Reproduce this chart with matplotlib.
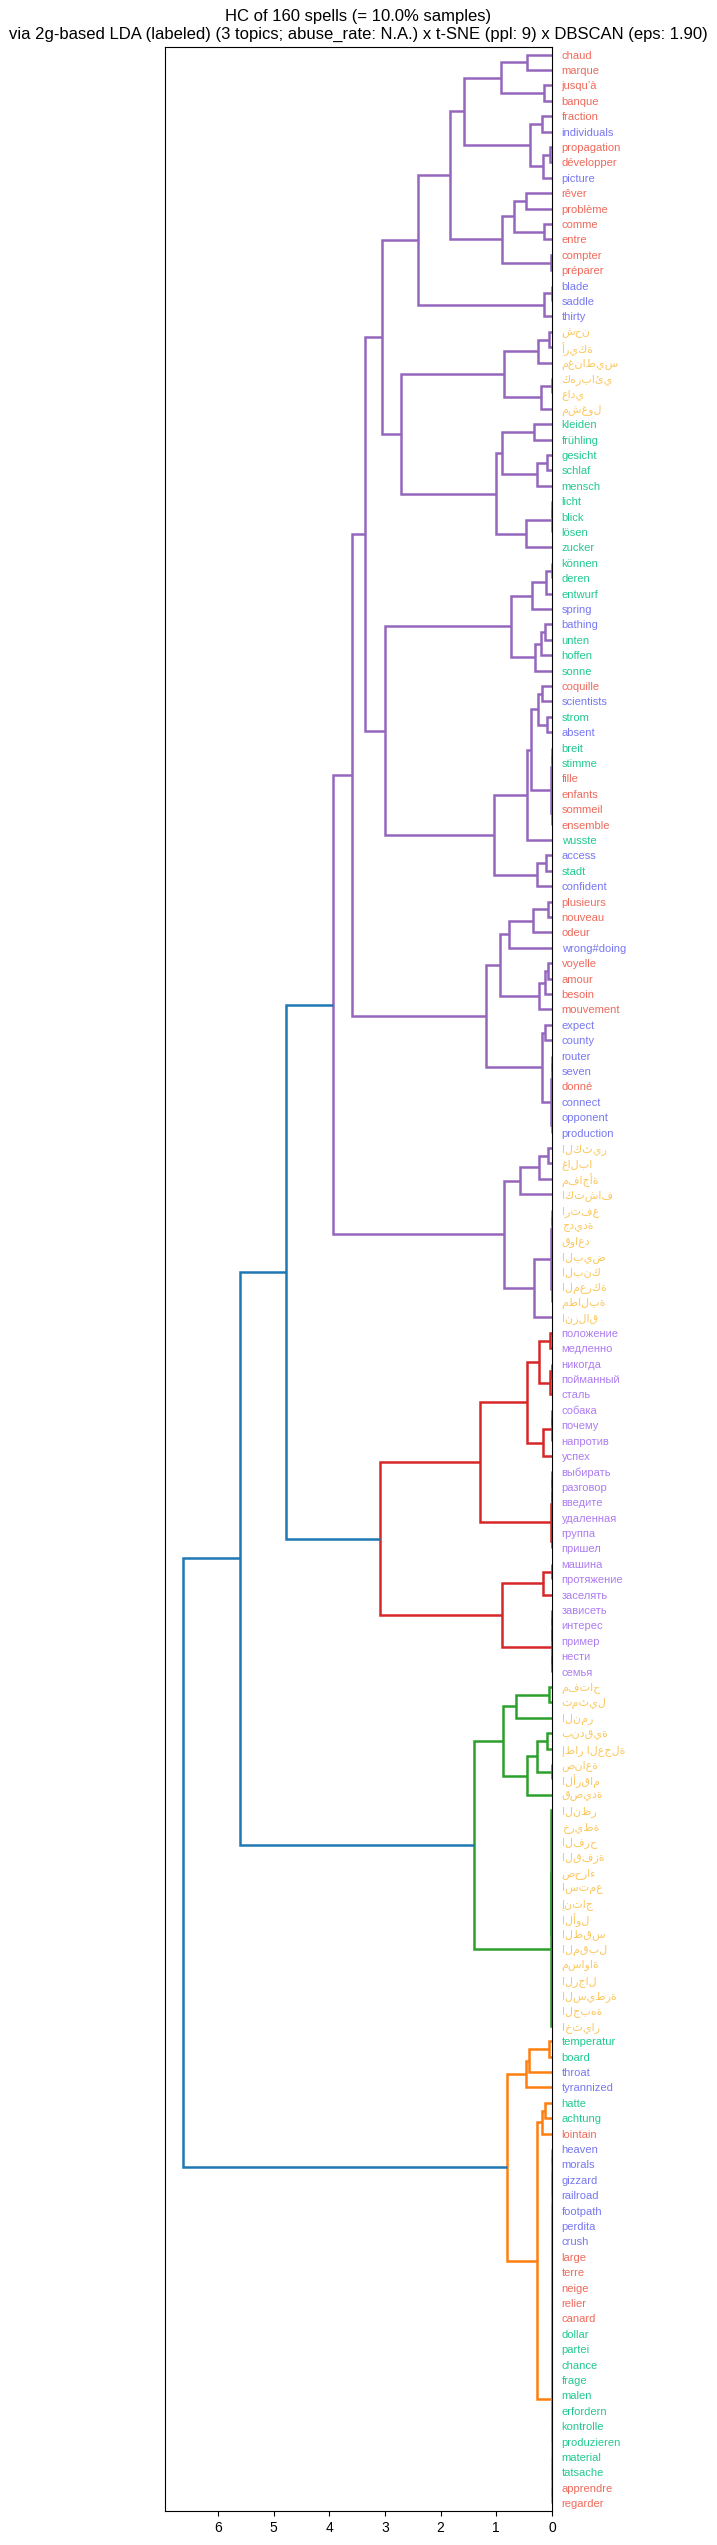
import matplotlib
matplotlib.use("Agg")
import matplotlib.pyplot as plt

plt.rcParams['font.family'] = ['Liberation Sans', 'DejaVu Sans']

# leaf labels, top to bottom (leaf numbers in the trees below count from 1 at the top)
LABELS = [
    "chaud", "marque", "jusqu’à", "banque", "fraction", "individuals", "propagation",
    "développer", "picture", "rêver", "problème", "comme", "entre", "compter", "préparer",
    "blade", "saddle", "thirty",
    "شحن", "أريكة", "مغناطيس", "كهربائي", "عادي", "مشغول",
    "kleiden", "frühling", "gesicht", "schlaf", "mensch", "licht", "blick", "lösen", "zucker",
    "können", "deren", "entwurf", "spring", "bathing", "unten", "hoffen", "sonne",
    "coquille", "scientists", "strom", "absent", "breit", "stimme", "fille", "enfants",
    "sommeil", "ensemble", "wusste", "access", "stadt", "confident",
    "plusieurs", "nouveau", "odeur", "wrong#doing", "voyelle", "amour", "besoin", "mouvement",
    "expect", "county", "router", "seven", "donné", "connect", "opponent", "production",
    "الكثير", "غالبا", "مفاجأة", "اكتشاف", "ارتفع", "جديدة", "قواعد", "البيض", "البنك",
    "المعركة", "مطالبة", "انزلاق",
    "положение", "медленно", "никогда", "пойманный", "сталь", "собака", "почему", "напротив",
    "успех", "выбирать", "разговор", "введите", "удаленная", "группа", "пришел", "машина",
    "протяжение", "заселять", "зависеть", "интерес", "пример", "нести", "семья",
    "مفتاح", "تمثيل", "النمر", "بندقية", "إطار العجلة", "صناعة", "الأرقام", "قصيدة", "النظر",
    "خريطة", "الفرح", "القفزة", "صحراء", "استمع", "إنتاج", "الأول", "الطقس", "المقبل",
    "مساواة", "الرجال", "السيطرة", "الجبهة", "اختيار",
    "temperatur", "board", "throat", "tyrannized", "hatte", "achtung", "lointain", "heaven",
    "morals", "gizzard", "railroad", "footpath", "perdita", "crush", "large", "terre", "neige",
    "relier", "canard", "dollar", "partei", "chance", "frage", "malen", "erfordern",
    "kontrolle", "produzieren", "material", "tatsache", "apprendre", "regarder",
]

LANGS = (
    "fr fr fr fr fr en fr fr en fr fr fr fr fr fr en en en "
    "ar ar ar ar ar ar "
    "de de de de de de de de de de de de en en de de de "
    "fr en de en de de fr fr fr fr de en de en "
    "fr fr fr en fr fr fr fr en en en en fr en en en "
    "ar ar ar ar ar ar ar ar ar ar ar ar "
    "ru ru ru ru ru ru ru ru ru ru ru ru ru ru ru ru ru ru ru ru ru ru ru "
    "ar ar ar ar ar ar ar ar ar ar ar ar ar ar ar ar ar ar ar ar ar ar ar "
    "de de en en de de fr en en en en en en en fr fr fr fr fr de de de de de de "
    "de de de de fr fr"
).split()

LANG_COLORS = {"fr": "#ef6a5c", "en": "#7878f2", "de": "#22c98e",
               "ar": "#fcc860", "ru": "#ad7cf2"}

# merges: (upper, lower, height)
PURPLE = (
    (
        (
            (
                ((((1, 2, 0.455), (3, 4, 0.144), 0.92),
                  ((5, 6, 0.18), ((7, 8, 0.036), 9, 0.156), 0.395), 1.58),
                 (((10, 11, 0.467), (12, 13, 0.144), 0.68), (14, 15, 0.01), 0.90), 1.83),
                ((16, 17, 0.006), 18, 0.144), 2.40),
            ((((19, 20, 0.054), 21, 0.25), ((22, 23, 0.006), 24, 0.2), 0.86),
             (((25, 26, 0.32), ((27, 28, 0.09), 29, 0.27), 0.90),
              (((30, 31, 0.004), 32, 0.008), 33, 0.467), 1.0), 2.72),
            3.05),
        (
            ((((34, 35, 0.005), 36, 0.108), 37, 0.365),
             (((38, 39, 0.13), 40, 0.2), 41, 0.31), 0.74),
            ((((((42, 43, 0.18), (44, 45, 0.09), 0.25),
                 (((46, 47, 0.003), 48, 0.006), ((49, 50, 0.003), 51, 0.006), 0.009), 0.38),
                52, 0.455),
              ((53, 54, 0.114), 55, 0.26), 1.04)),
            3.0),
        3.35),
    (
        ((((56, 57, 0.07), 58, 0.335), 59, 0.78),
         (((60, 61, 0.07), 62, 0.13), 63, 0.24), 0.93),
        ((64, 65, 0.13),
         (((66, 67, 0.003), (68, 69, 0.003), 0.006), (70, 71, 0.003), 0.009), 0.18),
        1.185),
    3.6)
PURPLE = (PURPLE,
          ((((72, 73, 0.07), 74, 0.233), 75, 0.57),
           ((((76, 77, 0.003), 78, 0.005), (((79, 80, 0.003), 81, 0.005), 82, 0.007), 0.009),
            83, 0.32), 0.87),
          3.94)

RED = (
    ((((84, 85, 0.036), ((86, 87, 0.005), 88, 0.036), 0.227),
      (((89, 90, 0.003), 91, 0.005), 92, 0.156), 0.443),
     ((((93, 94, 0.003), 95, 0.005), 96, 0.007), (97, 98, 0.003), 0.009), 1.29),
    (((99, 100, 0.003), 101, 0.168),
     (((102, 103, 0.003), 104, 0.005), (105, 106, 0.003), 0.007), 0.90),
    3.09)

GREEN = (
    (((107, 108, 0.054), 109, 0.646),
     (((110, 111, 0.09), (112, 113, 0.005), 0.275), 114, 0.455), 0.874),
    ((115,
      ((((116, 117, 0.002), (118, 119, 0.002), 0.004), (120, 121, 0.002), 0.005),
       ((((((122, 123, 0.002), 124, 0.003), 125, 0.004), 126, 0.005), 127, 0.006), 128, 0.007),
       0.008),
      0.009),
     129, 0.01),
    1.40)

ORANGE = (
    ((((130, 131, 0.05), 132, 0.41), 133, 0.47)),
    (((134, 135, 0.126), 136, 0.18),
     ((((((137, 138, 0.002), (139, 140, 0.002), 0.003), ((141, 142, 0.002), (143, 144, 0.002), 0.003), 0.004),
        ((145, 146, 0.002), (147, 148, 0.002), 0.003), 0.005),
       (((149, 150, 0.002), (151, 152, 0.002), 0.003), ((153, 154, 0.002), (155, 156, 0.002), 0.003), 0.004),
       0.006),
      ((157, 158, 0.002), (159, 160, 0.002), 0.003), 0.008),
     0.275),
    0.80)

CLUSTERS = {"purple": (PURPLE, "#9467bd"), "red": (RED, "#d62728"),
            "green": (GREEN, "#2ca02c"), "orange": (ORANGE, "#ff7f0e")}
TOP = ((("purple", "red", 4.78), "green", 5.60), "orange", 6.62)
ABOVE_COLOR = "#1f77b4"

N = len(LABELS)
LW = 1.8


def leaf_y(k):
    return 5 + 10 * (N - k)


def draw(ax, node, color):
    if isinstance(node, int):
        return leaf_y(node), 0.0
    if isinstance(node, str):
        tree, c = CLUSTERS[node]
        return draw(ax, tree, c)
    upper, lower, h = node
    y1, h1 = draw(ax, upper, color)
    y2, h2 = draw(ax, lower, color)
    ax.plot([h1, h, h, h2], [y1, y1, y2, y2], color=color, lw=LW,
            solid_capstyle="butt", solid_joinstyle="miter")
    return (y1 + y2) / 2, h


fig = plt.figure(figsize=(7.17, 25.45), dpi=100)
ax = fig.add_axes([0.2301, 0.01336, 0.5397, 0.9682])

draw(ax, TOP, ABOVE_COLOR)

ax.set_xlim(6.95, 0)
ax.set_ylim(0, 10 * N)
ax.set_yticks([leaf_y(k) for k in range(1, N + 1)])
ax.set_yticklabels(LABELS, fontsize=8)
ax.yaxis.tick_right()
for line in ax.get_yticklines():
    line.set_visible(False)
for lab, lang in zip(ax.get_yticklabels(), LANGS):
    lab.set_color(LANG_COLORS[lang])
ax.set_xticks(range(0, 7))
ax.tick_params(axis="x", labelsize=10)

ax.set_title("HC of 160 spells (= 10.0% samples)\n"
             "via 2g-based LDA (labeled) (3 topics; abuse_rate: N.A.) x t-SNE (ppl: 9) x DBSCAN (eps: 1.90)",
             fontsize=12)

fig.savefig("out.png", dpi=100)
